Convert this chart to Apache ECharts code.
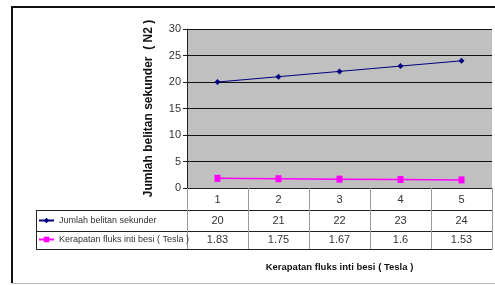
<!DOCTYPE html>
<html>
<head>
<meta charset="utf-8">
<script src="https://cdn.jsdelivr.net/npm/echarts@6/dist/echarts.min.js"></script>
<style>
  html, body { margin: 0; padding: 0; background: #fff; }
  #chart { width: 495px; height: 285px; }
</style>
</head>
<body>
<div id="chart"></div>
<script>
  // data
  var categories = ['1', '2', '3', '4', '5'];
  var belitan = [20, 21, 22, 23, 24];
  var fluks = [1.83, 1.75, 1.67, 1.6, 1.53];
  var yTicks = [0, 5, 10, 15, 20, 25, 30];

  var nameBelitan = 'Jumlah belitan sekunder';
  var nameFluks = 'Kerapatan fluks inti besi ( Tesla )';

  var sans = '"Liberation Sans", Arial, sans-serif';

  var chart = echarts.init(document.getElementById('chart'));

  // table row axis (one per row under the plot)
  function rowAxis(labels, offset, tickLen, margin, name) {
    return {
      type: 'category',
      data: categories,
      position: 'bottom',
      gridIndex: 0,
      offset: offset,
      axisLine: { show: true, lineStyle: { color: '#222', width: 1 } },
      axisTick: { show: tickLen > 0, length: tickLen, lineStyle: { color: '#9a9a9a' } },
      axisLabel: {
        show: !!labels,
        margin: margin,
        color: '#333',
        fontFamily: sans,
        fontSize: 11,
        formatter: function (v, i) { return labels ? String(labels[i]) : ''; }
      },
      splitLine: { show: false },
      name: name || '',
      nameLocation: 'middle',
      nameGap: 13,
      nameTextStyle: { color: '#111', fontFamily: sans, fontWeight: 'bold', fontSize: 9.5 }
    };
  }

  chart.setOption({
    animation: false,
    grid: {
      left: 187, right: 3, top: 29, bottom: 97,
      show: true, backgroundColor: '#c0c0c0', borderWidth: 0
    },
    xAxis: [
      rowAxis(categories, 0, 22, 6),
      rowAxis(belitan, 22, 21, 5),
      rowAxis(fluks, 43, 18, 3),
      rowAxis(null, 61, 0, 0, nameFluks)
    ],
    yAxis: {
      type: 'value',
      min: yTicks[0],
      max: yTicks[yTicks.length - 1],
      interval: 5,
      name: nameBelitan + '  ( N2 )',
      nameLocation: 'middle',
      nameGap: 32,
      nameTextStyle: { color: '#111', fontFamily: sans, fontWeight: 'bold', fontSize: 12 },
      axisLine: { show: true, lineStyle: { color: '#222' } },
      axisTick: { show: true, length: 4, lineStyle: { color: '#222' } },
      axisLabel: { color: '#333', fontFamily: sans, fontSize: 11, margin: 6 },
      splitLine: { show: true, lineStyle: { color: '#111', width: 1 } }
    },
    legend: [
      {
        data: [nameBelitan], left: 38, top: 216, itemWidth: 15, itemHeight: 7, itemGap: 3, padding: 0,
        textStyle: { color: '#333', fontFamily: sans, fontSize: 9 }
      },
      {
        data: [nameFluks], left: 38, top: 235, itemWidth: 15, itemHeight: 7, itemGap: 3, padding: 0,
        textStyle: { color: '#333', fontFamily: sans, fontSize: 9 }
      }
    ],
    series: [
      {
        name: nameBelitan,
        type: 'line',
        data: belitan,
        color: '#000080',
        symbol: 'diamond',
        symbolSize: 6,
        lineStyle: { width: 1, color: '#000080' },
        itemStyle: { color: '#000080' }
      },
      {
        name: nameFluks,
        type: 'line',
        data: fluks,
        color: '#ff00ff',
        symbol: 'rect',
        symbolSize: [6, 7],
        lineStyle: { width: 1.5, color: '#ff00ff' },
        itemStyle: { color: '#ff00ff' }
      }
    ],
    graphic: [
      // outer frame
      { type: 'line', shape: { x1: 11, y1: 7, x2: 495, y2: 7 }, style: { stroke: '#111', lineWidth: 2 } },
      { type: 'line', shape: { x1: 12, y1: 7, x2: 12, y2: 283 }, style: { stroke: '#111', lineWidth: 2 } },
      { type: 'line', shape: { x1: 12, y1: 283.5, x2: 495, y2: 283.5 }, style: { stroke: '#bbb', lineWidth: 1 } },
      // left column of data table
      { type: 'line', shape: { x1: 36, y1: 210.5, x2: 187, y2: 210.5 }, style: { stroke: '#222', lineWidth: 1 } },
      { type: 'line', shape: { x1: 36, y1: 231.5, x2: 187, y2: 231.5 }, style: { stroke: '#222', lineWidth: 1 } },
      { type: 'line', shape: { x1: 36, y1: 249.5, x2: 187, y2: 249.5 }, style: { stroke: '#222', lineWidth: 1 } },
      { type: 'line', shape: { x1: 36.5, y1: 210, x2: 36.5, y2: 250 }, style: { stroke: '#222', lineWidth: 1 } }
    ]
  });
</script>
</body>
</html>
